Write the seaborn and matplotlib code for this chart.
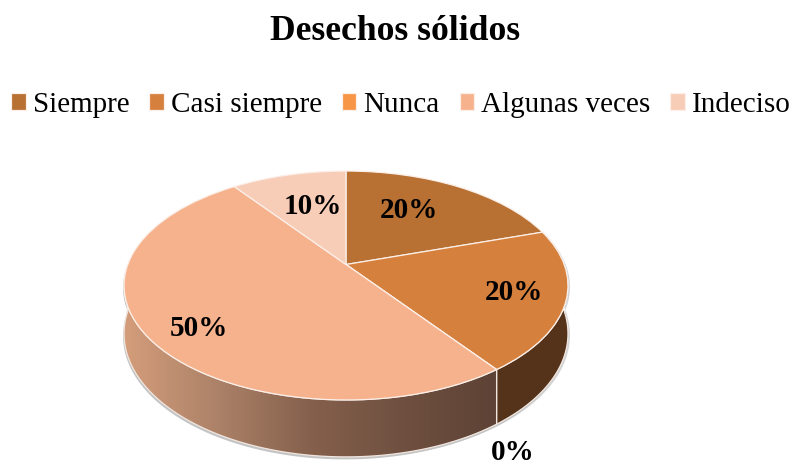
import numpy as np
import seaborn as sns
from matplotlib import pyplot as plt
from matplotlib.colors import LinearSegmentedColormap
from matplotlib.patches import Polygon
from matplotlib.transforms import Transform

categories = ["Siempre", "Casi siempre", "Nunca", "Algunas veces", "Indeciso"]
percent = [20, 20, 0, 50, 10]
colors = ["#B87033", "#D6803D", "#F79646", "#F6B28C", "#F8CDB8"]

# where the percent labels sit, in picture pixels
label_xy = [(409, 211), (514, 293), (513, 452), (199, 328), (313, 206)]

# ramp along the front wall of the big slice
wall_ramp = ["#D49D7B", "#AC8268", "#85604C", "#6F5040", "#5D4235"]
wall_dark = "#55331A"

# projection of the unit disc on the picture
CX, CY = 346, 264.5
R, B, K = 218.2, 110.6, 0.1834
DEPTH = 46.5


class TiltedDisc(Transform):
    input_dims = 2
    output_dims = 2
    has_inverse = False

    def transform_non_affine(self, values):
        u, v = values[:, 0], values[:, 1]
        w = 1 + K * v
        return np.column_stack([CX + R * u / w, CY - B * v / w])


def wall_outline(tilt, a0, a1):
    t = np.radians(np.linspace(a0, a1, 90))
    u, v = np.sin(t), np.cos(t)
    top = tilt.transform(np.column_stack([u, v]))
    bottom = top + np.column_stack([np.zeros_like(v), DEPTH / (1 + K * v)])
    return np.vstack([top, bottom[::-1]])


sns.set_theme(style="white")
plt.rcParams["font.family"] = ["Liberation Serif", "DejaVu Serif"]
sns.set_palette(colors)

fig = plt.figure(figsize=(7.92, 4.66), dpi=100)
ax = fig.add_axes([0, 0, 1, 1])

wedges, _, autotexts = ax.pie(
    percent, startangle=90, counterclock=False, frame=True, autopct="%d%%",
    colors=sns.color_palette(), wedgeprops={"edgecolor": "#FBEFE8", "linewidth": 0.9, "zorder": 3},
    textprops={"fontsize": 21, "fontweight": "bold", "color": "black"})

tilt = TiltedDisc()
for w in wedges:
    w.set_transform(tilt + ax.transData)
for txt, xy in zip(autotexts, label_xy):
    txt.set_position(xy)
    txt.set_zorder(5)

# side walls, behind the top face
edges = np.concatenate([[0], np.cumsum(percent)]) * 3.6
big = int(np.argmax(percent))
for i in range(len(percent)):
    if percent[i] == 0 or edges[i + 1] <= 90 or edges[i] >= 270:
        continue
    pts = wall_outline(tilt, edges[i], min(edges[i + 1], 270))
    ax.add_patch(Polygon(pts + [-1, 2.5], fc="#C4C4C4", ec="none", zorder=0.5))
    ax.add_patch(Polygon(pts + [2, 1.5], fc="#D4D4D4", ec="none", zorder=0.4))
    if i == big:
        outline = Polygon(pts, fc="none", ec="#F1E6DF", lw=0.9, zorder=2)
        ax.add_patch(outline)
        ramp = LinearSegmentedColormap.from_list("wall", wall_ramp)
        im = ax.imshow(np.linspace(0, 1, 256)[None, :], cmap=ramp, aspect="auto",
                       extent=(pts[:, 0].min(), pts[0, 0], 470, 280), zorder=1)
        im.set_clip_path(outline)
    else:
        ax.add_patch(Polygon(pts, fc=wall_dark, ec="#F1E6DF", lw=0.9, zorder=1))

ax.set_aspect("auto")
ax.set_xlim(0, 792)
ax.set_ylim(466, 0)
ax.axis("off")

ax.text(395.5, 32, "Desechos sólidos", ha="center", va="center",
        fontsize=25.6, fontweight="bold", color="black")

ax.legend(wedges, categories, loc="center", bbox_to_anchor=(401, 105),
          bbox_transform=ax.transData, ncol=5, frameon=False, fontsize=21,
          borderpad=0, handlelength=0.5, handleheight=0.5, handletextpad=0.24,
          columnspacing=0.68, labelcolor="black")

fig.savefig("out.png", dpi=100)
